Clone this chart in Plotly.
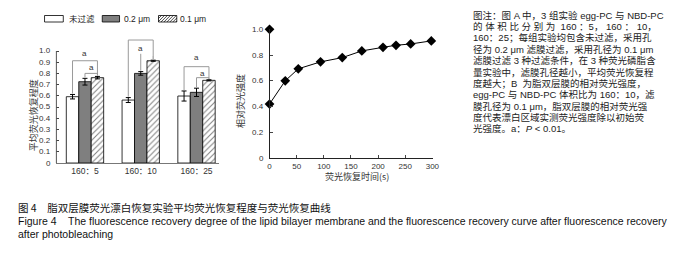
import plotly.graph_objects as go

# The page body keeps the browser's default 8 px margin, so the figure is
# drawn 8 px smaller and all layout positions are given in window pixels.
OFF = 8
W, H = 689 - OFF, 253 - OFF

# ---------------- data: panel A (bar chart) ----------------
groups = ["160：5", "160：10", "160：25"]
series_names = ["未过滤", "0.2 μm", "0.1 μm"]
unfiltered = [0.592, 0.562, 0.598]
unfiltered_err = [0.020, 0.022, 0.045]
pore_02 = [0.726, 0.800, 0.631]
pore_02_err = [0.030, 0.016, 0.037]
pore_01 = [0.762, 0.913, 0.738]
pore_01_err = [0.011, 0.005, 0.005]
bar_yticks = [0, 0.1, 0.2, 0.3, 0.4, 0.5, 0.6, 0.7, 0.8, 0.9, 1.0]
bar_yticklabels = ["0", "0.1", "0.2", "0.3", "0.4", "0.5", "0.6", "0.7", "0.8", "0.9", "1.0"]
bar_ytitle = "平均荧光恢复程度"

# significance brackets: (group, series from, series to, bracket level, label level, draw top line)
sig_brackets = [
    (0, 0, 2, 0.913, 0.975, True),
    (0, 1, 2, 0.800, 0.850, True),
    (1, 0, 2, 1.098, 1.160, True),
    (1, 1, 2, 0.975, 1.025, False),
    (2, 0, 2, 0.860, 0.945, True),
    (2, 1, 2, 0.762, 0.800, True),
]
sig_label = "a"

# ---------------- data: panel B (recovery curve) ----------------
time_s = [0, 29, 53, 94, 134, 170, 209, 233, 260, 298]
rel_intensity = [0.419, 0.600, 0.693, 0.747, 0.780, 0.832, 0.860, 0.876, 0.886, 0.910]
prebleach_time = [0]
prebleach_intensity = [1.0]
line_xticks = [0, 50, 100, 150, 200, 250, 300]
line_yticks = [0, 0.2, 0.4, 0.6, 0.8, 1.0]
line_yticklabels = ["0", "0.2", "0.4", "0.6", "0.8", "1.0"]
line_xtitle = "荧光恢复时间(s)"
line_ytitle = "相对荧光强度"

# ---------------- text ----------------
note_lines = [
    "图注：图 A 中，3 组实验 egg-PC 与 NBD-PC",
    "的 体 积 比 分 别 为  160 ：5， 160 ： 10，",
    "160：25；每组实验均包含未过滤，采用孔",
    "径为 0.2 μm 滤膜过滤，采用孔径为 0.1 μm",
    "滤膜过滤 3 种过滤条件，在 3 种荧光磷脂含",
    "量实验中，滤膜孔径越小，平均荧光恢复程",
    "度越大；B  为脂双层膜的相对荧光强度，",
    "egg-PC 与 NBD-PC 体积比为 160：10，滤",
    "膜孔径为 0.1 μm，脂双层膜的相对荧光强",
    "度代表漂白区域实测荧光强度除以初始荧",
    "光强度。a：<i>P</i> < 0.01。",
]
caption_cn = "图 4　脂双层膜荧光漂白恢复实验平均荧光恢复程度与荧光恢复曲线"
caption_en1 = ("Figure 4    The fluorescence recovery degree of the lipid bilayer membrane "
               "and the fluorescence recovery curve after fluorescence recovery")
caption_en2 = "after photobleaching"

FONT = "Liberation Sans, Arial, Noto Sans CJK SC, sans-serif"
CJK = "Noto Sans CJK SC, Liberation Sans, sans-serif"


def px(x):
    return (x - OFF) / W


def py(y):
    return 1 - (y - OFF) / H


BARGAP = 0.33
bar_w = (1 - BARGAP) / 3

fig = go.Figure()

bar_values = [unfiltered, pore_02, pore_01]
bar_errs = [unfiltered_err, pore_02_err, pore_01_err]
styles = [
    dict(color="white"),
    dict(color="#7f7f7f"),
    dict(color="white", pattern=dict(shape="/", fgcolor="black", bgcolor="white", size=4, solidity=0.25)),
]
xpos = list(range(len(groups)))
for name, vals, errs, st in zip(series_names, bar_values, bar_errs, styles):
    fig.add_trace(go.Bar(
        x=xpos, y=vals, name=name, xaxis="x", yaxis="y",
        marker=dict(line=dict(color="black", width=0.8), **st),
        error_y=dict(type="data", array=errs, color="black", thickness=1, width=2.5),
        showlegend=False,
    ))

annotations = []
for g, a, b, level, lab, top in sig_brackets:
    xa = g + (a - 1) * bar_w
    xb = g + (b - 1) * bar_w
    ya = bar_values[a][g] + bar_errs[a][g] + 0.008
    yb = bar_values[b][g] + bar_errs[b][g] + 0.008
    if top:
        fig.add_trace(go.Scatter(x=[xa, xa, xb, xb], y=[ya, level, level, yb], mode="lines",
                                 xaxis="x", yaxis="y", line=dict(color="#9a9a9a", width=1),
                                 showlegend=False, hoverinfo="skip"))
    else:
        fig.add_trace(go.Scatter(x=[xa, xa], y=[ya, level], mode="lines", xaxis="x", yaxis="y",
                                 line=dict(color="#9a9a9a", width=1), showlegend=False, hoverinfo="skip"))
        fig.add_trace(go.Scatter(x=[xb, xb], y=[level - 0.02, level - 0.05], mode="lines",
                                 xaxis="x", yaxis="y", line=dict(color="#b0b0b0", width=1),
                                 showlegend=False, hoverinfo="skip"))
    annotations.append(dict(x=(xa + xb) / 2 if top else xa, y=lab, xref="x", yref="y", text=sig_label,
                            showarrow=False, font=dict(family=FONT, size=8, color="#333")))

fig.add_trace(go.Scatter(x=time_s, y=rel_intensity, mode="lines+markers", xaxis="x2", yaxis="y2",
                         line=dict(color="black", width=1),
                         marker=dict(symbol="diamond", size=7.5, color="black"),
                         cliponaxis=False, showlegend=False))
fig.add_trace(go.Scatter(x=prebleach_time, y=prebleach_intensity, mode="markers", xaxis="x2", yaxis="y2",
                         marker=dict(symbol="diamond", size=7.5, color="black"),
                         cliponaxis=False, showlegend=False))

shapes = []
shapes.append(dict(type="line", xref="x domain", yref="y", x0=0, x1=0, y0=0, y1=1.0,
                   line=dict(color="#555", width=1)))

# legend
leg_y0, leg_y1 = 15.5, 22
boxes = [(43, 62), (101.5, 119), (158.5, 177)]
fills = ["white", "#7f7f7f", "white"]
for (x0, x1), f in zip(boxes, fills):
    shapes.append(dict(type="rect", xref="paper", yref="paper", x0=px(x0), x1=px(x1),
                       y0=py(leg_y1), y1=py(leg_y0), fillcolor=f, line=dict(color="black", width=0.8)))
hx0, hx1 = boxes[2]
hh = leg_y1 - leg_y0
path = ""
k = hx0 - hh
while k < hx1:
    xa_, ya_ = k, leg_y1
    xb_, yb_ = k + hh, leg_y0
    if xa_ < hx0:
        ya_ = leg_y1 - (hx0 - xa_)
        xa_ = hx0
    if xb_ > hx1:
        yb_ = leg_y0 + (xb_ - hx1)
        xb_ = hx1
    if xb_ > xa_:
        path += f"M{px(xa_):.5f},{py(ya_):.5f} L{px(xb_):.5f},{py(yb_):.5f} "
    k += 3.0
shapes.append(dict(type="path", xref="paper", yref="paper", path=path, line=dict(color="black", width=0.7)))
for t, x in zip(series_names, [66, 122, 178]):
    annotations.append(dict(x=px(x), y=py(19), xref="paper", yref="paper", text=t, showarrow=False,
                            xanchor="left", yanchor="middle", font=dict(family=FONT, size=8.5, color="#222")))

annotations.append(dict(x=px(23), y=py(115), xref="paper", yref="paper", text=bar_ytitle, textangle=-90,
                        showarrow=False, font=dict(family=CJK, size=9, color="#333")))
annotations.append(dict(x=px(241), y=py(101), xref="paper", yref="paper", text=line_ytitle, textangle=-90,
                        showarrow=False, font=dict(family=CJK, size=9, color="#333")))
annotations.append(dict(x=px(360), y=py(185), xref="paper", yref="paper", text=line_xtitle,
                        showarrow=False, font=dict(family=CJK, size=9, color="#333")))

note_y = [15, 26.4, 37.8, 49.2, 60.6, 72, 83.4, 94.8, 106.2, 117.6, 129]
for t, y in zip(note_lines, note_y):
    annotations.append(dict(x=px(475), y=py(y), xref="paper", yref="paper", text=t, showarrow=False,
                            xanchor="left", yanchor="middle", font=dict(family=FONT, size=9.5, color="#222")))

annotations.append(dict(x=px(14), y=py(207), xref="paper", yref="paper", text=caption_cn, showarrow=False,
                        xanchor="left", yanchor="middle", font=dict(family=CJK, size=10.5, color="#111")))
annotations.append(dict(x=px(14), y=py(221), xref="paper", yref="paper", text=caption_en1, showarrow=False,
                        xanchor="left", yanchor="middle", font=dict(family=FONT, size=10.5, color="#111")))
annotations.append(dict(x=px(14), y=py(234), xref="paper", yref="paper", text=caption_en2, showarrow=False,
                        xanchor="left", yanchor="middle", font=dict(family=FONT, size=10.5, color="#111")))

# y tick labels placed through the axes' own y scales (drawn last, on top)
for v, t in zip(bar_yticks, bar_yticklabels):
    annotations.append(dict(x=0, y=v, xref="x domain", yref="y", text=t, showarrow=False,
                            xanchor="right", yanchor="middle", xshift=-3,
                            font=dict(family=FONT, size=8, color="#333")))
for v, t in zip(line_yticks, line_yticklabels):
    annotations.append(dict(x=px(267), y=v, xref="paper", yref="y2", text=t, showarrow=False,
                            xanchor="right", yanchor="middle",
                            font=dict(family=FONT, size=8, color="#333")))

fig.update_layout(
    width=W, height=H, margin=dict(l=0, r=0, t=0, b=0),
    paper_bgcolor="white", plot_bgcolor="white",
    barmode="group", bargap=BARGAP, bargroupgap=0,
    font=dict(family=FONT, size=8, color="#333"),
    xaxis=dict(domain=[px(55), px(220)], range=[-0.513, 2.407], tickvals=xpos, ticktext=groups,
               showline=True, linecolor="#777", linewidth=1, ticks="", showgrid=False, zeroline=False,
               tickfont=dict(size=8.5, color="#333"), anchor="y"),
    yaxis=dict(domain=[py(163), py(34.2)], range=[0, 1.15], tickvals=bar_yticks,
               showticklabels=False, ticks="inside", ticklen=3, showline=False, showgrid=False,
               zeroline=False, anchor="x"),
    xaxis2=dict(domain=[px(271), px(436.6)], range=[0, 301], tickvals=line_xticks,
                showline=True, linecolor="#222", linewidth=1, ticks="inside", ticklen=3,
                showgrid=False, zeroline=False, tickfont=dict(size=8, color="#333"), anchor="y2"),
    yaxis2=dict(domain=[py(158), py(29.3)], range=[0, 1.0], tickvals=line_yticks,
                showticklabels=False, showline=True, linecolor="#222", linewidth=1, ticks="inside",
                ticklen=3, showgrid=False, zeroline=False, anchor="x2"),
    shapes=shapes, annotations=annotations,
)

fig.write_html("out.html")
